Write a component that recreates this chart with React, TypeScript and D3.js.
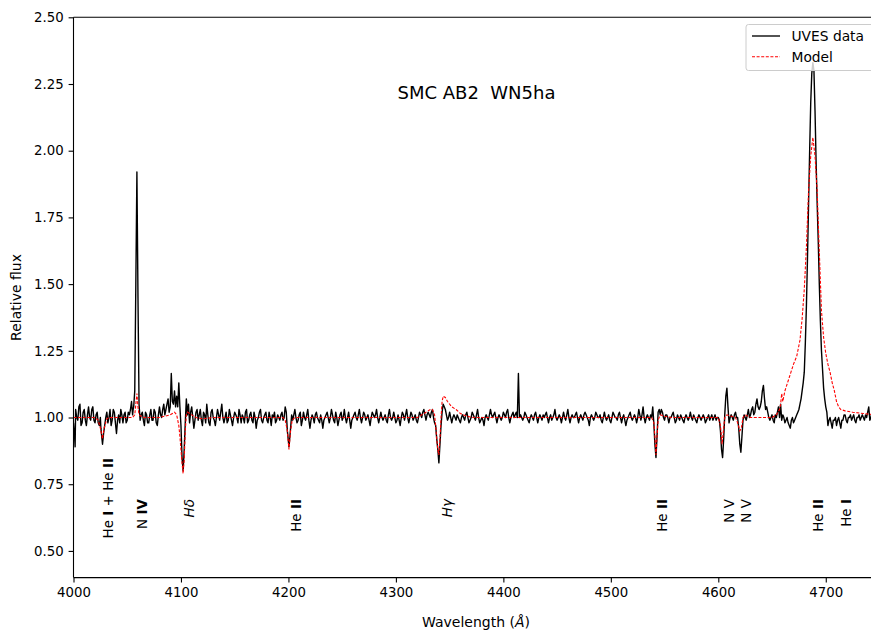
import React, { useRef, useEffect } from 'react'
import * as d3 from 'd3'

// UVES spectrum, [wavelength (Å), relative flux]
const uvesData: [number, number][] = [
  [4000, 0.98], [4001, 0.93], [4001.5, 0.89], [4002, 1.03], [4003, 1.0], [4004, 0.99], [4005, 1.04], [4006, 1.05],
  [4007, 0.97], [4008, 0.98], [4009, 1.02], [4010, 1.03], [4011, 0.99], [4012, 0.97], [4013, 1.01], [4014, 1.04],
  [4015, 1.0], [4016, 0.99], [4017, 1.03], [4018, 1.04], [4019, 0.99], [4020, 0.98], [4021, 1.01], [4022, 1.02],
  [4023, 0.98], [4024, 0.97], [4025, 1.0], [4025.5, 0.96], [4026.5, 0.92], [4027, 0.9], [4028, 0.94], [4029, 0.97],
  [4030, 1.0], [4031, 1.02], [4032, 0.98], [4033, 1.0], [4034, 1.03], [4035, 0.97], [4036, 0.99], [4037, 1.03],
  [4038, 1.02], [4039, 0.98], [4040, 0.94], [4041, 0.99], [4042, 1.01], [4043, 0.98], [4044, 1.03], [4045, 1.01],
  [4046, 0.98], [4047, 1.01], [4048, 1.02], [4049, 0.98], [4050, 0.99], [4051, 1.02], [4052, 1.01], [4053, 1.03],
  [4054, 1.06], [4055, 1.01], [4055.5, 1.03], [4056, 1.04], [4057, 1.1], [4058, 1.5], [4059, 1.92], [4060, 1.45],
  [4061, 1.05], [4062, 0.99], [4063, 1.01], [4064, 1.02], [4065, 0.99], [4066, 0.97], [4067, 1.02], [4068, 1.01],
  [4069, 0.98], [4070, 0.98], [4071, 1.01], [4072, 1.03], [4073, 0.99], [4074, 0.99], [4075, 1.03], [4076, 1.02],
  [4077, 0.98], [4078, 0.97], [4079, 1.01], [4080, 1.04], [4081, 1.01], [4082, 1.0], [4083, 1.03], [4084, 1.05],
  [4085, 1.01], [4086, 1.03], [4087, 1.05], [4088, 1.07], [4089, 1.02], [4090, 1.04], [4091, 1.165], [4092, 1.06],
  [4093, 1.05], [4094, 1.1], [4095, 1.04], [4096, 1.08], [4097, 1.04], [4098, 1.13], [4099, 1.04], [4100, 0.97],
  [4101, 0.85], [4102, 0.8], [4103, 0.88], [4104, 0.98], [4105, 1.07], [4106, 1.01], [4107, 1.05], [4108, 0.98],
  [4109, 1.02], [4110, 1.04], [4111, 1.0], [4112, 0.96], [4113, 0.99], [4114, 1.02], [4115, 1.03], [4116, 0.99],
  [4117, 1.01], [4118, 1.03], [4119, 0.99], [4120, 0.97], [4121, 1.02], [4122, 1.01], [4123, 0.98], [4124, 1.05],
  [4125, 1.01], [4126, 0.98], [4127, 0.97], [4128, 1.02], [4129, 1.03], [4130, 1.0], [4131, 0.99], [4132, 0.97],
  [4133, 1.0], [4134, 1.03], [4135, 1.01], [4136, 0.99], [4137, 1.02], [4138, 1.05], [4139, 1.0], [4140, 0.98],
  [4141, 1.0], [4142, 1.02], [4143, 0.98], [4144, 0.99], [4145, 1.03], [4146, 1.01], [4147, 0.99], [4148, 0.97],
  [4149, 1.0], [4150, 1.02], [4151, 1.01], [4152, 1.0], [4153, 0.98], [4154, 1.03], [4155, 1.01], [4156, 0.98],
  [4157, 1.01], [4158, 1.0], [4159, 0.98], [4160, 1.02], [4161, 1.03], [4162, 0.98], [4163, 0.99], [4164, 1.01],
  [4165, 1.02], [4166, 0.99], [4167, 0.98], [4168, 1.02], [4169, 1.0], [4170, 0.96], [4171, 0.99], [4172, 1.0],
  [4173, 1.02], [4174, 1.03], [4175, 0.99], [4176, 0.98], [4177, 1.0], [4178, 1.01], [4179, 1.02], [4180, 0.99],
  [4181, 0.98], [4182, 1.02], [4183, 1.0], [4184, 0.97], [4185, 1.01], [4186, 1.0], [4187, 1.02], [4188, 0.98],
  [4189, 0.99], [4190, 1.01], [4191, 1.0], [4192, 0.99], [4193, 1.01], [4194, 1.02], [4195, 0.99], [4196, 1.0],
  [4197, 1.04], [4198, 1.02], [4199, 0.95], [4200.5, 0.89], [4202, 0.96], [4203, 1.01], [4204, 0.99], [4205, 1.01],
  [4206, 1.03], [4207, 1.0], [4208, 0.98], [4209, 0.99], [4210, 1.01], [4211, 1.02], [4212, 0.97], [4213, 0.99],
  [4214, 1.02], [4215, 1.0], [4216, 0.99], [4217, 1.01], [4218, 1.03], [4219, 0.99], [4220, 0.96], [4221, 0.99],
  [4222, 1.01], [4223, 1.0], [4224, 0.98], [4225, 1.01], [4226, 1.02], [4227, 1.0], [4228, 0.99], [4229, 0.98],
  [4230, 1.01], [4231, 0.99], [4232, 0.96], [4233, 0.99], [4234, 1.0], [4235, 1.01], [4236, 1.02], [4237, 1.0],
  [4238, 0.98], [4239, 1.0], [4240, 1.03], [4241, 1.01], [4242, 0.99], [4243, 0.98], [4244, 1.02], [4245, 1.0],
  [4246, 0.97], [4247, 0.99], [4248, 1.01], [4249, 1.02], [4250, 0.99], [4251, 1.0], [4252, 1.03], [4253, 1.0],
  [4254, 0.98], [4255, 1.0], [4256, 1.02], [4257, 0.99], [4258, 0.96], [4259, 0.99], [4260, 1.0], [4261, 1.01],
  [4262, 1.02], [4263, 1.0], [4264, 0.99], [4265, 1.01], [4266, 1.03], [4267, 1.0], [4268, 0.98], [4269, 1.0],
  [4270, 1.02], [4271, 1.01], [4272, 0.99], [4273, 1.0], [4274, 1.01], [4275, 0.99], [4276, 0.97], [4277, 1.0],
  [4278, 1.02], [4279, 1.01], [4280, 1.0], [4281, 1.01], [4282, 1.03], [4283, 1.0], [4284, 0.98], [4285, 1.0],
  [4286, 1.02], [4287, 1.0], [4288, 0.99], [4289, 1.0], [4290, 1.01], [4291, 0.99], [4292, 0.98], [4293, 1.01],
  [4294, 1.03], [4295, 1.0], [4296, 0.99], [4297, 1.0], [4298, 1.02], [4299, 1.0], [4300, 0.98], [4301, 0.99],
  [4302, 1.01], [4303, 0.99], [4304, 0.97], [4305, 1.0], [4306, 1.02], [4307, 1.01], [4308, 0.99], [4309, 1.01],
  [4310, 1.03], [4311, 1.0], [4312, 0.98], [4313, 1.0], [4314, 1.02], [4315, 1.01], [4316, 0.99], [4317, 1.0],
  [4318, 1.01], [4319, 0.99], [4320, 0.98], [4321, 1.0], [4322, 1.02], [4323, 1.01], [4324, 1.0], [4325, 1.02],
  [4326, 1.03], [4327, 1.01], [4328, 0.99], [4329, 1.01], [4330, 1.02], [4331, 1.01], [4332, 1.0], [4333, 1.02],
  [4334, 1.03], [4335, 1.0], [4336, 0.98], [4337, 0.97], [4338, 0.92], [4339, 0.88], [4340, 0.83], [4341, 0.9],
  [4342, 0.97], [4343, 1.02], [4344, 1.05], [4345, 1.04], [4346, 1.03], [4347, 1.01], [4348, 0.99], [4349, 1.0],
  [4350, 1.02], [4351, 1.0], [4352, 0.98], [4353, 1.0], [4354, 1.01], [4355, 1.0], [4356, 0.99], [4357, 1.01],
  [4358, 1.0], [4359, 0.99], [4360, 0.98], [4361, 1.0], [4362, 1.01], [4363, 1.0], [4364, 0.99], [4365, 1.01],
  [4366, 1.02], [4367, 1.0], [4368, 0.98], [4369, 0.99], [4370, 1.0], [4371, 1.02], [4372, 1.01], [4373, 1.0],
  [4374, 0.99], [4375, 1.01], [4376, 1.03], [4377, 1.0], [4378, 0.98], [4379, 0.99], [4380, 1.0], [4381, 0.99],
  [4382, 0.97], [4383, 1.0], [4384, 1.01], [4385, 1.0], [4386, 0.99], [4387, 1.01], [4388, 1.03], [4389, 1.01],
  [4390, 1.0], [4391, 1.01], [4392, 1.02], [4393, 1.0], [4394, 0.98], [4395, 1.0], [4396, 1.01], [4397, 1.0],
  [4398, 0.99], [4399, 1.0], [4400, 1.02], [4401, 1.01], [4402, 1.0], [4403, 1.02], [4404, 1.03], [4405, 1.0],
  [4406, 0.98], [4407, 1.0], [4408, 1.01], [4409, 1.02], [4410, 1.0], [4411, 1.01], [4412, 1.02], [4413, 1.0],
  [4414, 1.165], [4415, 1.0], [4416, 1.01], [4417, 1.0], [4418, 0.99], [4419, 1.0], [4420, 1.02], [4421, 1.01],
  [4422, 1.0], [4423, 0.99], [4424, 0.98], [4425, 1.0], [4426, 1.01], [4427, 1.0], [4428, 0.99], [4429, 1.01],
  [4430, 1.02], [4431, 1.0], [4432, 0.98], [4433, 1.0], [4434, 1.01], [4435, 1.0], [4436, 0.99], [4437, 1.01],
  [4438, 1.0], [4439, 1.01], [4440, 1.02], [4441, 1.0], [4442, 0.98], [4443, 1.0], [4444, 1.01], [4445, 0.99],
  [4446, 1.0], [4447, 1.01], [4448, 1.03], [4449, 1.0], [4450, 0.99], [4451, 1.0], [4452, 1.01], [4453, 1.0],
  [4454, 0.98], [4455, 1.0], [4456, 1.02], [4457, 1.0], [4458, 0.99], [4459, 1.01], [4460, 1.03], [4461, 1.0],
  [4462, 0.98], [4463, 1.0], [4464, 1.01], [4465, 1.0], [4466, 1.0], [4467, 1.01], [4468, 1.02], [4469, 1.0],
  [4470, 0.98], [4471, 1.0], [4472, 1.01], [4473, 1.0], [4474, 0.99], [4475, 1.01], [4476, 1.02], [4477, 1.01],
  [4478, 1.0], [4479, 0.99], [4480, 0.97], [4481, 1.0], [4482, 1.01], [4483, 1.0], [4484, 0.99], [4485, 1.0],
  [4486, 1.02], [4487, 1.01], [4488, 1.0], [4489, 1.0], [4490, 1.01], [4491, 0.99], [4492, 0.98], [4493, 1.0],
  [4494, 1.02], [4495, 1.0], [4496, 0.99], [4497, 1.0], [4498, 1.01], [4499, 0.99], [4500, 0.98], [4501, 1.0],
  [4502, 1.02], [4503, 1.01], [4504, 1.0], [4505, 1.0], [4506, 0.99], [4507, 1.01], [4508, 1.02], [4509, 1.0],
  [4510, 0.98], [4511, 1.0], [4512, 1.01], [4513, 0.99], [4514, 0.97], [4515, 0.99], [4516, 1.0], [4517, 1.01],
  [4518, 1.02], [4519, 1.0], [4520, 0.99], [4521, 1.0], [4522, 1.01], [4523, 1.0], [4524, 0.98], [4525, 1.0],
  [4526, 1.03], [4527, 1.01], [4528, 0.99], [4529, 1.01], [4530, 1.04], [4531, 1.0], [4532, 0.98], [4533, 1.0],
  [4534, 1.01], [4535, 1.0], [4536, 0.99], [4537, 1.01], [4538, 1.0], [4539, 1.04], [4540, 0.98], [4541, 0.9],
  [4542, 0.85], [4543, 0.93], [4544, 1.02], [4545, 1.03], [4546, 1.01], [4547, 1.03], [4548, 1.02], [4549, 1.0],
  [4550, 0.99], [4551, 1.01], [4552, 1.01], [4553, 1.0], [4554, 0.98], [4555, 1.0], [4556, 1.0], [4557, 1.01],
  [4558, 1.02], [4559, 1.0], [4560, 0.98], [4561, 0.99], [4562, 1.01], [4563, 1.0], [4564, 0.99], [4565, 1.01],
  [4566, 1.0], [4567, 0.99], [4568, 0.98], [4569, 1.0], [4570, 1.01], [4571, 1.0], [4572, 0.99], [4573, 1.0],
  [4574, 1.02], [4575, 1.0], [4576, 0.99], [4577, 1.01], [4578, 1.0], [4579, 0.99], [4580, 0.98], [4581, 1.0],
  [4582, 1.01], [4583, 1.0], [4584, 0.99], [4585, 1.0], [4586, 1.01], [4587, 1.0], [4588, 0.98], [4589, 0.99],
  [4590, 1.0], [4591, 1.01], [4592, 0.99], [4593, 1.0], [4594, 1.01], [4595, 0.99], [4596, 1.0], [4597, 1.01],
  [4598, 0.99], [4599, 1.0], [4600, 1.0], [4601, 0.99], [4602, 0.95], [4603, 0.88], [4604, 0.85], [4605, 0.92],
  [4606, 1.01], [4607, 1.08], [4608, 1.11], [4609, 1.04], [4610, 0.98], [4611, 1.0], [4612, 1.01], [4613, 1.0],
  [4614, 0.99], [4615, 1.01], [4616, 1.02], [4617, 1.0], [4618, 1.0], [4619, 0.96], [4620, 0.9], [4621, 0.87],
  [4622, 0.93], [4623, 0.99], [4624, 1.01], [4625, 1.0], [4626, 0.99], [4627, 1.01], [4628, 1.03], [4629, 1.0],
  [4630, 1.01], [4631, 1.03], [4632, 1.04], [4633, 1.01], [4634, 1.02], [4635, 1.05], [4636, 1.07], [4637, 1.04],
  [4638, 1.03], [4639, 1.04], [4640, 1.06], [4641, 1.1], [4642, 1.12], [4643, 1.07], [4644, 1.03], [4645, 1.04],
  [4646, 1.02], [4647, 1.0], [4648, 0.99], [4649, 1.0], [4650, 1.01], [4651, 0.99], [4652, 0.98], [4653, 1.01],
  [4654, 1.0], [4655, 1.02], [4656, 1.04], [4657, 1.0], [4658, 1.05], [4659, 0.99], [4660, 1.01], [4661, 1.0],
  [4662, 0.98], [4663, 0.99], [4664, 1.0], [4665, 0.98], [4666, 0.97], [4667, 0.96], [4668, 0.99], [4669, 1.0],
  [4670, 0.98], [4671, 0.99], [4672, 1.0], [4673, 1.01], [4674, 1.02], [4675, 1.03], [4676, 1.05], [4677, 1.07],
  [4678, 1.1], [4679, 1.13], [4680, 1.17], [4681, 1.28], [4682, 1.42], [4683, 1.6], [4684, 1.8], [4685, 2.0],
  [4686, 2.18], [4687, 2.29], [4688, 2.33], [4689, 2.3], [4690, 2.15], [4691, 1.96], [4692, 1.8], [4693, 1.66],
  [4694, 1.5], [4695, 1.36], [4696, 1.25], [4697, 1.18], [4698, 1.11], [4699, 1.07], [4700, 1.04], [4701, 1.02],
  [4702, 0.97], [4703, 0.99], [4704, 1.0], [4705, 0.98], [4706, 0.96], [4707, 0.99], [4708, 0.99], [4709, 1.0],
  [4710, 0.97], [4711, 0.99], [4712, 1.0], [4713, 0.98], [4714, 0.96], [4715, 0.99], [4716, 0.99], [4717, 1.01],
  [4718, 1.01], [4719, 0.99], [4720, 0.98], [4721, 1.0], [4722, 1.0], [4723, 1.01], [4724, 0.99], [4725, 1.0],
  [4726, 1.01], [4727, 0.99], [4728, 0.98], [4729, 1.0], [4730, 1.0], [4731, 1.01], [4732, 0.99], [4733, 1.0],
  [4734, 1.01], [4735, 1.0], [4736, 0.99], [4737, 1.01], [4738, 1.0], [4739, 1.02], [4740, 1.04], [4741, 0.99],
  [4742, 1.0], [4743, 1.02], [4744, 1.01], [4745, 1.0], [4746, 1.02],
]

// model spectrum
const modelData: [number, number][] = [
  [4000, 1.0], [4020, 1.0], [4023, 0.99], [4025, 0.96], [4027, 0.92], [4028.5, 0.96], [4031, 0.995], [4033, 1.0],
  [4055, 1.0], [4057, 1.01], [4058, 1.05], [4059, 1.09], [4060, 1.04], [4061, 1.01], [4065, 1.0], [4080, 1.0],
  [4090, 1.01], [4094, 1.02], [4096, 1.01], [4098, 0.97], [4099, 0.93], [4100, 0.88], [4101, 0.83], [4102, 0.79],
  [4103, 0.84], [4104, 0.95], [4105, 1.01], [4106, 1.02], [4110, 1.01], [4114, 1.0], [4120, 0.995], [4130, 1.0],
  [4195, 1.0], [4197, 0.99], [4199, 0.95], [4200.5, 0.88], [4202, 0.95], [4203.5, 0.99], [4206, 1.0], [4320, 1.0],
  [4328, 1.02], [4332, 1.03], [4334, 1.03], [4336, 1.01], [4337, 0.97], [4338, 0.92], [4339, 0.88], [4340, 0.86],
  [4341, 0.92], [4342, 1.0], [4343, 1.06], [4344, 1.08], [4346, 1.075], [4348, 1.06], [4352, 1.04], [4356, 1.03],
  [4360, 1.015], [4366, 1.005], [4372, 1.0], [4538, 1.0], [4540, 0.98], [4541, 0.93], [4542, 0.86], [4543, 0.93],
  [4544, 0.99], [4546, 1.01], [4550, 1.005], [4556, 1.0], [4600, 1.0], [4602, 0.97], [4603.5, 0.9], [4605, 0.96],
  [4606, 1.0], [4608, 1.01], [4616, 1.0], [4618, 0.98], [4620, 0.95], [4621.5, 0.96], [4623, 1.0], [4625, 1.01],
  [4630, 1.0], [4650, 1.0], [4654, 1.01], [4657, 1.03], [4658, 1.05], [4659, 1.09], [4660, 1.06], [4662, 1.1],
  [4666, 1.15], [4670, 1.2], [4673, 1.23], [4676, 1.29], [4678, 1.37], [4680, 1.48], [4682, 1.64], [4684, 1.85],
  [4686, 1.98], [4688, 2.05], [4690, 1.98], [4692, 1.85], [4694, 1.62], [4696, 1.4], [4698, 1.3], [4700, 1.24],
  [4702, 1.2], [4704, 1.17], [4706, 1.13], [4708, 1.1], [4710, 1.06], [4712, 1.04], [4714, 1.03], [4718, 1.025],
  [4725, 1.02], [4735, 1.015], [4746, 1.01],
]

const xTicks = [4000, 4100, 4200, 4300, 4400, 4500, 4600, 4700]
const yTicks = [0.5, 0.75, 1.0, 1.25, 1.5, 1.75, 2.0, 2.25, 2.5]
const legendItems = ['UVES data', 'Model']
const title = 'SMC AB2  WN5ha'

// line identifications: wavelength, text pieces as [text, bold]
const lineIds: { wl: number; parts: [string, boolean][]; italic?: boolean }[] = [
  { wl: 4032, parts: [['He ', false], ['I', true], [' + He ', false], ['II', true]] },
  { wl: 4064, parts: [['N ', false], ['IV', true]] },
  { wl: 4107.5, parts: [['Hδ', false]], italic: true },
  { wl: 4207, parts: [['He ', false], ['II', true]] },
  { wl: 4348, parts: [['Hγ', false]], italic: true },
  { wl: 4548, parts: [['He ', false], ['II', true]] },
  { wl: 4610, parts: [['N V', false]] },
  { wl: 4626, parts: [['N V', false]] },
  { wl: 4693, parts: [['He ', false], ['II', true]] },
  { wl: 4719, parts: [['He ', false], ['I', true]] },
]

const Chart = () => {
  const svgRef = useRef<SVGSVGElement>(null)
  const width = 871
  const height = 630
  const left = 73.5
  const right = 879.5
  const top = 17.3
  const bottom = 577.6
  const font = 'DejaVu Sans, sans-serif'

  useEffect(() => {
    const svg = d3.select(svgRef.current)
    svg.selectAll('*').remove()

    const x = d3.scaleLinear().domain([4000, 4750]).range([left, right])
    const y = d3.scaleLinear().domain([0.4, 2.5]).range([bottom, top])

    svg.append('defs').append('clipPath').attr('id', 'plotclip')
      .append('rect').attr('x', left).attr('y', top).attr('width', right - left).attr('height', bottom - top)

    const graphLine = d3.line<[number, number]>().x(d => x(d[0])).y(d => y(d[1]))

    const plot = svg.append('g').attr('clip-path', 'url(#plotclip)')
    plot.append('path').datum(uvesData)
      .attr('fill', 'none').attr('stroke', '#000').attr('stroke-width', 1.4)
      .attr('stroke-linejoin', 'round').attr('d', graphLine)
    plot.append('path').datum(modelData)
      .attr('fill', 'none').attr('stroke', '#ff0000').attr('stroke-width', 1.1)
      .attr('stroke-dasharray', '3,1.6').attr('d', graphLine)

    // axes
    const xAxis = svg.append('g').attr('transform', `translate(0,${bottom})`)
      .call(d3.axisBottom(x).tickValues(xTicks).tickSize(4.9).tickPadding(4.9).tickFormat(d3.format('d')))
    const yAxis = svg.append('g').attr('transform', `translate(${left},0)`)
      .call(d3.axisLeft(y).tickValues(yTicks).tickSize(4.9).tickPadding(4.9).tickFormat(d3.format('.2f')))
    ;[xAxis, yAxis].forEach(g => {
      g.select('.domain').remove()
      g.selectAll('line').attr('stroke', '#000').attr('stroke-width', 1.1)
      g.selectAll('text').attr('font-family', font).attr('font-size', 13.3).attr('fill', '#000')
    })

    // spines
    svg.append('line').attr('x1', left).attr('x2', left).attr('y1', top).attr('y2', bottom)
      .attr('stroke', '#000').attr('stroke-width', 1.1)
    svg.append('line').attr('x1', left).attr('x2', right).attr('y1', top).attr('y2', top)
      .attr('stroke', '#000').attr('stroke-width', 1.1)
    svg.append('line').attr('x1', left).attr('x2', right).attr('y1', bottom).attr('y2', bottom)
      .attr('stroke', '#000').attr('stroke-width', 1.1)

    // line identifications
    lineIds.forEach((l, i) => {
      const t = svg.append('text')
        .attr('transform', `translate(${x(l.wl)},${i === 0 ? 458 : 499}) rotate(-90)`)
        .attr('text-anchor', 'end').attr('dominant-baseline', 'central')
        .attr('font-family', font).attr('font-size', 13.5)
        .attr('font-style', l.italic ? 'italic' : 'normal')
        .style('white-space', 'pre')
      l.parts.forEach(([s, b]) => t.append('tspan').attr('font-weight', b ? 'bold' : 'normal').text(s))
    })

    // title
    svg.append('text').attr('x', 476.5).attr('y', 99).attr('text-anchor', 'middle')
      .attr('font-family', font).attr('font-size', 18).style('white-space', 'pre').text(title)

    // axis labels
    svg.append('text').attr('transform', `translate(16,${(top + bottom) / 2}) rotate(-90)`)
      .attr('text-anchor', 'middle').attr('dominant-baseline', 'central')
      .attr('font-family', font).attr('font-size', 14).text('Relative flux')
    const xl = svg.append('text').attr('x', 476).attr('y', 627).attr('text-anchor', 'middle')
      .attr('font-family', font).attr('font-size', 14)
    xl.append('tspan').text('Wavelength (')
    xl.append('tspan').attr('font-style', 'italic').text('Å')
    xl.append('tspan').text(')')

    // legend
    const lg = svg.append('g')
    lg.append('rect').attr('x', 746).attr('y', 24.5).attr('width', 140).attr('height', 46).attr('rx', 2.5)
      .attr('fill', '#fff').attr('fill-opacity', 0.8).attr('stroke', '#cccccc').attr('stroke-width', 1)
    legendItems.forEach((name, i) => {
      const ly = 36 + i * 20.7
      lg.append('line').attr('x1', 752).attr('x2', 780).attr('y1', ly).attr('y2', ly)
        .attr('stroke', i === 0 ? '#000' : '#ff0000').attr('stroke-width', i === 0 ? 1.35 : 1.1)
        .attr('stroke-dasharray', i === 0 ? null : '3,1.6')
      lg.append('text').attr('x', 791.5).attr('y', ly).attr('dominant-baseline', 'central')
        .attr('font-family', font).attr('font-size', 13.8).text(name)
    })
  }, [])

  return (
    <svg ref={svgRef} width={width} height={height} style={{ display: 'block', background: '#fff' }}></svg>
  )
}

export default function App() {
  return (
    <div style={{ position: 'fixed', left: 0, top: 0, width: 871, height: 630, overflow: 'hidden' }}>
      <Chart />
    </div>
  )
}
